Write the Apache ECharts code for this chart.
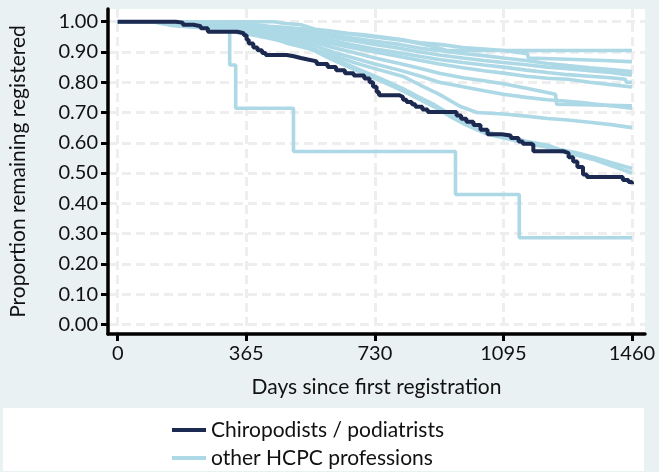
<!DOCTYPE html>
<html>
<head>
<meta charset="utf-8">
<script src="https://cdn.jsdelivr.net/npm/echarts@6/dist/echarts.min.js"></script>
<style>
html,body{margin:0;padding:0;background:#eaf1f3;}
#c{width:659px;height:472px;}
</style>
</head>
<body>
<div id="c"></div>
<script>
// ---- data ----
const xTicks = [0, 365, 730, 1095, 1460];
const yTicks = [0, 0.1, 0.2, 0.3, 0.4, 0.5, 0.6, 0.7, 0.8, 0.9, 1.0];
const seriesNames = ['Chiropodists / podiatrists', 'other HCPC professions'];

// Kaplan-Meier style [day, proportion remaining]
const chiropodists = [[0,1],[165,0.997],[185,0.99],[215,0.985],[236,0.978],[256,0.967],[340,0.962],[358,0.955],[366,0.94],[372,0.928],[385,0.915],[397,0.906],[410,0.897],[420,0.89],[480,0.886],[500,0.88],[520,0.875],[540,0.869],[565,0.86],[596,0.85],[620,0.84],[645,0.83],[670,0.822],[700,0.812],[715,0.80],[725,0.785],[735,0.768],[742,0.757],[800,0.751],[810,0.742],[820,0.735],[835,0.727],[845,0.719],[865,0.71],[880,0.702],[955,0.702],[962,0.69],[975,0.679],[990,0.669],[1010,0.659],[1030,0.643],[1050,0.628],[1090,0.624],[1116,0.616],[1138,0.604],[1150,0.597],[1173,0.593],[1180,0.572],[1265,0.566],[1280,0.552],[1293,0.538],[1305,0.52],[1321,0.495],[1332,0.487],[1417,0.487],[1434,0.477],[1450,0.47],[1460,0.463]];

const otherU1 = [[0,1],[444,1],[470,0.995],[520,0.99],[560,0.975],[600,0.97],[653,0.962],[700,0.957],[760,0.948],[810,0.94],[850,0.93],[890,0.92],[935,0.905],[1460,0.905]];
const otherU2 = [[0,1],[250,1],[300,0.997],[365,0.993],[430,0.985],[490,0.98],[548,0.973],[610,0.965],[670,0.958],[730,0.95],[800,0.94],[860,0.93],[913,0.925],[980,0.915],[1040,0.91],[1095,0.905],[1163,0.894],[1166,0.88],[1278,0.876],[1380,0.872],[1455,0.868],[1460,0.868]];
const otherU3 = [[0,1],[150,1],[200,0.997],[280,0.993],[365,0.99],[430,0.98],[490,0.972],[548,0.965],[610,0.955],[670,0.945],[730,0.935],[800,0.925],[860,0.912],[913,0.905],[980,0.895],[1040,0.888],[1095,0.88],[1160,0.872],[1220,0.862],[1278,0.855],[1340,0.848],[1400,0.842],[1460,0.835]];
const otherU4 = [[0,1],[130,1],[180,0.995],[260,0.99],[365,0.985],[430,0.975],[490,0.968],[548,0.96],[610,0.948],[670,0.937],[730,0.925],[800,0.912],[860,0.9],[913,0.89],[980,0.88],[1040,0.872],[1095,0.865],[1160,0.858],[1220,0.85],[1278,0.845],[1340,0.838],[1400,0.832],[1440,0.826],[1460,0.824]];
const otherU5 = [[0,1],[120,1],[160,0.992],[250,0.987],[365,0.98],[430,0.97],[490,0.96],[548,0.95],[610,0.937],[670,0.923],[730,0.91],[800,0.897],[860,0.885],[913,0.875],[980,0.865],[1040,0.857],[1095,0.85],[1160,0.84],[1220,0.832],[1278,0.825],[1340,0.82],[1400,0.815],[1440,0.81],[1445,0.80],[1460,0.80]];
const otherU6 = [[0,1],[110,1],[150,0.99],[250,0.982],[365,0.975],[430,0.962],[490,0.95],[548,0.94],[610,0.927],[670,0.913],[730,0.9],[800,0.885],[860,0.872],[913,0.86],[980,0.848],[1040,0.838],[1095,0.83],[1160,0.82],[1220,0.813],[1278,0.81],[1340,0.80],[1400,0.792],[1460,0.784]];
const otherM0 = [[0,1],[140,1],[190,0.99],[280,0.98],[365,0.97],[430,0.957],[490,0.945],[548,0.935],[610,0.915],[670,0.898],[730,0.88],[800,0.862],[860,0.845],[913,0.83],[980,0.815],[1040,0.805],[1095,0.795],[1160,0.78],[1243,0.76],[1246,0.727],[1350,0.725],[1460,0.722]];
const otherM1 = [[0,1],[100,1],[150,0.99],[260,0.978],[365,0.965],[430,0.95],[490,0.938],[548,0.925],[610,0.9],[670,0.88],[730,0.86],[800,0.84],[860,0.82],[913,0.80],[980,0.785],[1040,0.772],[1095,0.76],[1160,0.75],[1220,0.742],[1278,0.737],[1340,0.73],[1400,0.722],[1460,0.714]];
const otherM2 = [[0,1],[120,1],[170,0.99],[270,0.975],[365,0.96],[430,0.945],[490,0.93],[548,0.91],[610,0.89],[670,0.865],[730,0.845],[813,0.818],[860,0.79],[913,0.76],[973,0.72],[1020,0.70],[1095,0.695],[1160,0.688],[1220,0.68],[1278,0.675],[1340,0.668],[1400,0.66],[1460,0.65]];
const otherL1 = [[0,1],[110,1],[160,0.99],[250,0.983],[365,0.975],[430,0.955],[477,0.935],[548,0.915],[600,0.885],[650,0.86],[700,0.835],[750,0.81],[808,0.78],[854,0.752],[900,0.725],[950,0.69],[987,0.668],[1050,0.635],[1100,0.622],[1160,0.605],[1220,0.592],[1255,0.578],[1300,0.568],[1350,0.552],[1400,0.535],[1460,0.515]];
const otherL2 = [[0,1],[100,1],[150,0.988],[240,0.98],[365,0.97],[430,0.95],[477,0.93],[548,0.91],[600,0.88],[650,0.853],[700,0.828],[750,0.803],[808,0.772],[854,0.745],[900,0.718],[950,0.683],[987,0.66],[1050,0.628],[1100,0.615],[1160,0.598],[1220,0.585],[1255,0.572],[1300,0.56],[1350,0.545],[1400,0.525],[1460,0.50]];
const otherSmall = [[0,1],[318,0.857],[335,0.714],[499,0.571],[959,0.429],[1140,0.286],[1460,0.286]];

const othersLarge = [otherU1, otherU2, otherU3, otherU4, otherU5, otherU6, otherM0, otherM1, otherM2, otherL1, otherL2];

// ---- styles ----
const DARK = '#1c2a52';
const LIGHT = '#add8e6';
const FONT = 'Lato';

const chart = echarts.init(document.getElementById('c'), null, {renderer: 'canvas'});

const series = othersLarge.map(d => ({
  name: seriesNames[1], type: 'line', step: false, data: d, showSymbol: false, symbol: 'none',
  lineStyle: {color: LIGHT, width: 3.6}, itemStyle: {color: LIGHT}, z: 2, silent: true
}));
series.push({
  name: seriesNames[1], type: 'line', step: 'end', data: otherSmall, showSymbol: false, symbol: 'none',
  lineStyle: {color: LIGHT, width: 3.6}, itemStyle: {color: LIGHT}, z: 2, silent: true
});
series.push({
  name: seriesNames[0], type: 'line', step: 'end', data: chiropodists, showSymbol: false, symbol: 'none',
  lineStyle: {color: DARK, width: 4}, itemStyle: {color: DARK}, z: 3, silent: true
});

chart.setOption({
  animation: false,
  backgroundColor: '#eaf1f3',
  textStyle: {fontFamily: FONT},
  grid: {left: 107, right: 14, top: 9, bottom: 138, show: true, backgroundColor: '#ffffff', borderWidth: 0, containLabel: false},
  xAxis: {
    type: 'value', min: -27.5, max: 1497,
    name: 'Days since first registration', nameLocation: 'middle', nameGap: 43,
    nameTextStyle: {fontFamily: FONT, fontSize: 21, color: '#111'},
    axisLine: {onZero: false, lineStyle: {color: '#000', width: 3.5}},
    axisTick: {show: true, length: 7, lineStyle: {color: '#000', width: 3}, customValues: xTicks},
    axisLabel: {customValues: xTicks, fontFamily: FONT, fontSize: 20, color: '#111', margin: 10,
      formatter: v => String(v)},
    splitLine: {show: true, lineStyle: {color: '#eeeeee', width: 3, type: [9, 5]}}
  },
  yAxis: {
    type: 'value', min: -0.032, max: 1.042,
    name: 'Proportion remaining registered', nameLocation: 'middle', nameGap: 79,
    nameTextStyle: {fontFamily: FONT, fontSize: 21, color: '#111'},
    axisLine: {show: true, onZero: false, lineStyle: {color: '#000', width: 3.5}},
    axisTick: {show: true, length: 7, lineStyle: {color: '#000', width: 3}, customValues: yTicks},
    axisLabel: {customValues: yTicks, fontFamily: FONT, fontSize: 20, color: '#111', margin: 10,
      formatter: v => v.toFixed(2)},
    splitLine: {show: true, lineStyle: {color: '#eeeeee', width: 3, type: [9, 5]}}
  },
  legend: {
    data: seriesNames, orient: 'vertical', left: 3, top: 408, height: 60,
    backgroundColor: '#ffffff', padding: [11, 200, 2, 169], itemGap: 6,
    itemWidth: 34, itemHeight: 4, icon: 'rect',
    textStyle: {fontFamily: FONT, fontSize: 21, color: '#111', lineHeight: 22}
  },
  series: series
});
</script>
</body>
</html>
